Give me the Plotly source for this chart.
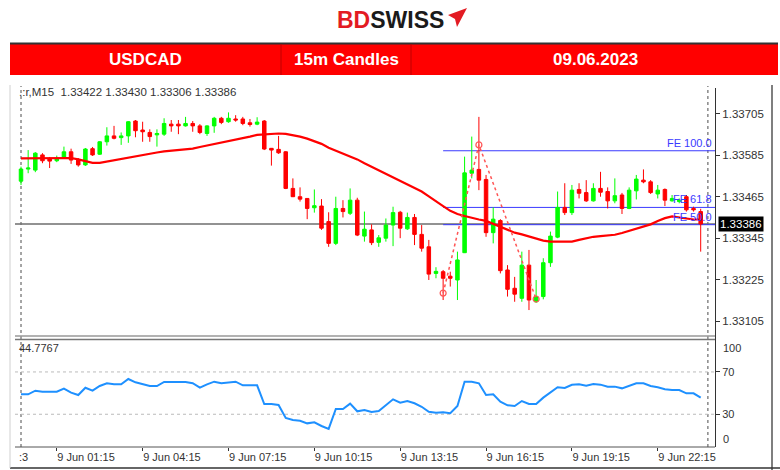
import plotly.graph_objects as go
import pandas as pd

W, H = 780, 470

# ---------------- data ----------------
times = pd.date_range("2023-06-09 00:00", periods=96, freq="15min")

opens = [
    1.33510, 1.33545, 1.33542, 1.33586, 1.33575, 1.33569, 1.33579, 1.33595, 1.33571, 1.33557,
    1.33604, 1.33588, 1.33624, 1.33641, 1.33636, 1.33641, 1.33684, 1.33658, 1.33651, 1.33644,
    1.33646, 1.33675, 1.33675, 1.33670, 1.33677, 1.33670, 1.33648, 1.33670, 1.33692, 1.33682,
    1.33690, 1.33690, 1.33679, 1.33675, 1.33684, 1.33605, 1.33602, 1.33595, 1.33489, 1.33465,
    1.33460, 1.33433, 1.33438, 1.33393, 1.33330, 1.33431, 1.33417, 1.33455, 1.33351, 1.33369,
    1.33333, 1.33345, 1.33383, 1.33420, 1.33372, 1.33405, 1.33356, 1.33320, 1.33243, 1.33248,
    1.33235, 1.33224, 1.33303, 1.33533, 1.33544, 1.33515, 1.33361, 1.33396, 1.33253, 1.33200,
    1.33171, 1.33267, 1.33161, 1.33176, 1.33274, 1.33348, 1.33434, 1.33419, 1.33486, 1.33477,
    1.33453, 1.33489, 1.33480, 1.33453, 1.33470, 1.33431, 1.33482, 1.33513, 1.33508, 1.33473,
    1.33486, 1.33453, 1.33451, 1.33465, 1.33431, 1.33422]

highs = [
    1.33552, 1.33600, 1.33594, 1.33591, 1.33580, 1.33584, 1.33610, 1.33604, 1.33577, 1.33606,
    1.33609, 1.33626, 1.33666, 1.33670, 1.33651, 1.33684, 1.33687, 1.33682, 1.33660, 1.33660,
    1.33692, 1.33687, 1.33687, 1.33696, 1.33684, 1.33675, 1.33672, 1.33696, 1.33696, 1.33709,
    1.33701, 1.33696, 1.33690, 1.33695, 1.33687, 1.33606, 1.33641, 1.33597, 1.33518, 1.33492,
    1.33461, 1.33486, 1.33458, 1.33420, 1.33465, 1.33455, 1.33489, 1.33462, 1.33422, 1.33385,
    1.33354, 1.33402, 1.33436, 1.33424, 1.33419, 1.33415, 1.33383, 1.33340, 1.33261, 1.33253,
    1.33248, 1.33306, 1.33581, 1.33639, 1.33696, 1.33528, 1.33434, 1.33400, 1.33267, 1.33233,
    1.33306, 1.33311, 1.33224, 1.33287, 1.33364, 1.33480, 1.33504, 1.33499, 1.33504, 1.33513,
    1.33504, 1.33537, 1.33492, 1.33518, 1.33476, 1.33492, 1.33528, 1.33544, 1.33513, 1.33499,
    1.33489, 1.33470, 1.33460, 1.33470, 1.33436, 1.33430]

lows = [
    1.33499, 1.33533, 1.33536, 1.33562, 1.33548, 1.33565, 1.33577, 1.33560, 1.33552, 1.33554,
    1.33583, 1.33586, 1.33613, 1.33631, 1.33615, 1.33621, 1.33637, 1.33624, 1.33624, 1.33610,
    1.33641, 1.33653, 1.33646, 1.33668, 1.33653, 1.33646, 1.33641, 1.33650, 1.33675, 1.33679,
    1.33682, 1.33672, 1.33668, 1.33672, 1.33600, 1.33555, 1.33589, 1.33487, 1.33464, 1.33451,
    1.33400, 1.33419, 1.33369, 1.33320, 1.33325, 1.33405, 1.33412, 1.33351, 1.33335, 1.33325,
    1.33320, 1.33335, 1.33322, 1.33345, 1.33369, 1.33325, 1.33306, 1.33224, 1.33229, 1.33166,
    1.33205, 1.33166, 1.33302, 1.33518, 1.33484, 1.33349, 1.33330, 1.33243, 1.33176, 1.33161,
    1.33161, 1.33137, 1.33158, 1.33168, 1.33262, 1.33345, 1.33412, 1.33412, 1.33460, 1.33450,
    1.33451, 1.33465, 1.33431, 1.33446, 1.33415, 1.33429, 1.33457, 1.33504, 1.33473, 1.33460,
    1.33438, 1.33451, 1.33446, 1.33422, 1.33422, 1.33306]

closes = [
    1.33545, 1.33548, 1.33591, 1.33569, 1.33568, 1.33575, 1.33595, 1.33571, 1.33557, 1.33603,
    1.33586, 1.33624, 1.33641, 1.33634, 1.33641, 1.33682, 1.33656, 1.33653, 1.33639, 1.33648,
    1.33677, 1.33670, 1.33670, 1.33677, 1.33670, 1.33651, 1.33670, 1.33692, 1.33680, 1.33692,
    1.33687, 1.33677, 1.33674, 1.33681, 1.33603, 1.33600, 1.33592, 1.33489, 1.33465, 1.33458,
    1.33431, 1.33439, 1.33374, 1.33330, 1.33431, 1.33422, 1.33455, 1.33354, 1.33371, 1.33332,
    1.33346, 1.33383, 1.33419, 1.33374, 1.33405, 1.33356, 1.33316, 1.33241, 1.33249, 1.33229,
    1.33229, 1.33282, 1.33534, 1.33542, 1.33513, 1.33361, 1.33400, 1.33251, 1.33197, 1.33183,
    1.33267, 1.33166, 1.33176, 1.33274, 1.33351, 1.33434, 1.33419, 1.33484, 1.33475, 1.33453,
    1.33489, 1.33478, 1.33453, 1.33468, 1.33431, 1.33484, 1.33516, 1.33508, 1.33477, 1.33484,
    1.33455, 1.33460, 1.33455, 1.33427, 1.33427, 1.33386]

ma_values = [
    1.33576, 1.33576, 1.33576, 1.33576, 1.33576, 1.33576, 1.33577, 1.33577, 1.33573, 1.33567,
    1.33563, 1.33563, 1.33567, 1.33570, 1.33573, 1.33577, 1.33581, 1.33586, 1.33590, 1.33593,
    1.33596, 1.33598, 1.33600, 1.33602, 1.33604, 1.33609, 1.33613, 1.33618, 1.33622, 1.33626,
    1.33631, 1.33635, 1.33639, 1.33644, 1.33646, 1.33648, 1.33648, 1.33647, 1.33644, 1.33639,
    1.33633, 1.33626, 1.33618, 1.33607, 1.33599, 1.33591, 1.33583, 1.33573, 1.33562, 1.33552,
    1.33542, 1.33532, 1.33522, 1.33512, 1.33502, 1.33492, 1.33480, 1.33466, 1.33453, 1.33438,
    1.33424, 1.33415, 1.33409, 1.33403, 1.33399, 1.33395, 1.33386, 1.33377, 1.33369, 1.33361,
    1.33356, 1.33350, 1.33343, 1.33338, 1.33335, 1.33335, 1.33335, 1.33335, 1.33340, 1.33345,
    1.33349, 1.33351, 1.33353, 1.33355, 1.33360, 1.33366, 1.33373, 1.33380, 1.33385, 1.33395,
    1.33403, 1.33408, 1.33406, 1.33402, 1.33399, 1.33399]

rsi_values = [
    48.9, 48.9, 52.3, 51.3, 51.3, 51.3, 54.2, 50.4, 48.2, 55.1,
    52.3, 56.7, 59.3, 58.3, 58.3, 63.3, 60.2, 58.3, 56.7, 56.7,
    60.5, 60.5, 60.5, 60.5, 59.3, 55.1, 58.3, 60.8, 59.3, 60.2,
    60.8, 57.4, 57.4, 57.4, 39.7, 39.7, 38.8, 26.5, 24.6, 23.9,
    21.4, 22.4, 18.9, 16.1, 35.0, 35.0, 40.0, 32.8, 34.0, 32.1,
    33.1, 38.8, 44.1, 40.9, 42.5, 40.4, 37.1, 32.4, 31.5, 31.8,
    30.9, 37.8, 60.8, 60.8, 59.3, 48.2, 48.9, 41.9, 38.5, 37.8,
    42.5, 39.7, 39.7, 45.7, 50.4, 55.5, 54.8, 57.9, 58.3, 57.0,
    58.6, 58.0, 56.1, 56.1, 54.5, 56.7, 59.3, 59.3, 56.7, 55.5,
    53.6, 52.9, 52.9, 49.8, 49.8, 45.7]

fe_times = ["2023-06-09 14:45", "2023-06-09 16:00", "2023-06-09 18:00"]
fe_prices = [1.33186, 1.33615, 1.33169]
fe_labels = ["FE 100.0", "FE 61.8", "FE 50.0"]
fe_levels = [1.33598, 1.33434, 1.33384]

price_ticks = [1.33705, 1.33585, 1.33465, 1.33345, 1.33225, 1.33105]
time_ticks = ["2023-06-09 01:15", "2023-06-09 04:15", "2023-06-09 07:15", "2023-06-09 10:15",
              "2023-06-09 13:15", "2023-06-09 16:15", "2023-06-09 19:15", "2023-06-09 22:15"]
time_tick_text = ["9 Jun 01:15", "9 Jun 04:15", "9 Jun 07:15", "9 Jun 10:15",
                  "9 Jun 13:15", "9 Jun 16:15", "9 Jun 19:15", "9 Jun 22:15"]
last_price = 1.33386
header_text = ".:r,M15  1.33422 1.33430 1.33306 1.33386"
rsi_text = "44.7767"

# ---------------- helpers for layout positions ----------------
def px(x):
    return x / W


def py(y):
    return 1 - y / H


FONT = "Liberation Sans, Arial, sans-serif"
X_RANGE = ["2023-06-08 23:47:24", "2023-06-10 00:15:00"]

fig = go.Figure()

fig.add_trace(go.Candlestick(
    x=times, open=opens, high=highs, low=lows, close=closes,
    increasing=dict(line=dict(color="#00FF00", width=1), fillcolor="#00FF00"),
    decreasing=dict(line=dict(color="#FF0000", width=1), fillcolor="#FF0000"),
    whiskerwidth=0, xaxis="x", yaxis="y", hoverinfo="skip", showlegend=False))

fig.add_trace(go.Scatter(x=times, y=ma_values, mode="lines",
                         line=dict(color="#FF0000", width=2.2),
                         xaxis="x", yaxis="y", hoverinfo="skip", showlegend=False))

fig.add_trace(go.Scatter(x=fe_times, y=fe_prices, mode="lines+markers",
                         line=dict(color="#FF5555", width=1.5, dash="dot"),
                         marker=dict(symbol="circle-open", size=6, color="#FF5555", line=dict(width=1.2)),
                         xaxis="x", yaxis="y", hoverinfo="skip", showlegend=False))

fig.add_trace(go.Scatter(x=times, y=rsi_values, mode="lines",
                         line=dict(color="#1E90FF", width=2),
                         xaxis="x2", yaxis="y2", hoverinfo="skip", showlegend=False))

shapes = []
# banner
shapes.append(dict(type="rect", xref="paper", yref="paper", x0=px(10), x1=px(778), y0=py(75), y1=py(43),
                   fillcolor="#FF0000", line=dict(width=0), layer="above"))
shapes.append(dict(type="line", xref="paper", yref="paper", x0=px(10), x1=px(778), y0=py(43.5), y1=py(43.5),
                   line=dict(color="#333333", width=2)))
for xd in (281, 411):
    shapes.append(dict(type="line", xref="paper", yref="paper", x0=px(xd), x1=px(xd), y0=py(75), y1=py(44),
                       line=dict(color="#C00000", width=1)))
# logo arrow
shapes.append(dict(type="path", xref="paper", yref="paper",
                   path="M {} {} L {} {} L {} {} L {} {} Z".format(px(448), py(15), px(467), py(8), px(457), py(27), px(455), py(19)),
                   fillcolor="#E31B23", line=dict(width=0)))
# frame lines
shapes.append(dict(type="line", xref="paper", yref="paper", x0=px(772), x1=px(772), y0=py(470), y1=py(85),
                   line=dict(color="#555555", width=1.5)))
shapes.append(dict(type="line", xref="paper", yref="paper", x0=px(10), x1=px(780), y0=py(468), y1=py(468),
                   line=dict(color="#333333", width=1.5)))
shapes.append(dict(type="line", xref="paper", yref="paper", x0=px(10), x1=px(10), y0=py(468), y1=py(85),
                   line=dict(color="#D0D0D0", width=1)))
# panel separators
shapes.append(dict(type="line", xref="paper", yref="paper", x0=px(15), x1=px(715), y0=py(336), y1=py(336),
                   line=dict(color="#999999", width=1.5)))
shapes.append(dict(type="line", xref="paper", yref="paper", x0=px(15), x1=px(715), y0=py(339.5), y1=py(339.5),
                   line=dict(color="#777777", width=1.5)))
shapes.append(dict(type="line", xref="paper", yref="paper", x0=px(15), x1=px(715), y0=py(447), y1=py(447),
                   line=dict(color="#555555", width=1)))
shapes.append(dict(type="line", xref="paper", yref="paper", x0=px(715.5), x1=px(715.5), y0=py(447), y1=py(88),
                   line=dict(color="#333333", width=1)))
# day separators
for t in ("2023-06-09 00:00", "2023-06-10 00:00"):
    shapes.append(dict(type="line", xref="x", yref="paper", x0=t, x1=t, y0=py(447), y1=py(86),
                       line=dict(color="#888888", width=1.5, dash="dot"), layer="below"))
# current price line
shapes.append(dict(type="line", xref="paper", yref="y", x0=px(15), x1=px(715), y0=last_price, y1=last_price,
                   line=dict(color="#6E6E6E", width=1.5), layer="below"))
# FE levels
for lvl in fe_levels:
    shapes.append(dict(type="line", xref="x", yref="y", x0=fe_times[0], x1=X_RANGE[1], y0=lvl, y1=lvl,
                       line=dict(color="#3A3AFF", width=1), layer="below"))
# RSI levels
for lv in (70, 30):
    shapes.append(dict(type="line", xref="paper", yref="y2", x0=px(15), x1=px(715), y0=lv, y1=lv,
                       line=dict(color="#BBBBBB", width=1, dash="dot"), layer="below"))

ann = []
ann.append(dict(xref="paper", yref="paper", x=px(390), y=py(20), xanchor="center", yanchor="middle",
                text="<b><span style='color:#E31B23'>BD</span><span style='color:#1A1A1A'>SWISS</span></b>",
                showarrow=False, font=dict(family=FONT, size=23)))
for txt, cx in (("USDCAD", 145), ("15m Candles", 346), ("09.06.2023", 595)):
    ann.append(dict(xref="paper", yref="paper", x=px(cx), y=py(60), xanchor="center", yanchor="middle",
                    text="<b>" + txt + "</b>", showarrow=False, font=dict(family=FONT, size=17, color="white")))
ann.append(dict(xref="paper", yref="paper", x=px(17), y=py(91.5), xanchor="left", yanchor="middle",
                text=header_text, showarrow=False, font=dict(family=FONT, size=11.5, color="#333333")))
ann.append(dict(xref="paper", yref="paper", x=px(17), y=py(348), xanchor="left", yanchor="middle",
                text=rsi_text, showarrow=False, font=dict(family=FONT, size=11, color="#333333")))
ann.append(dict(xref="paper", yref="paper", x=px(17), y=py(457), xanchor="left", yanchor="middle",
                text=":3", showarrow=False, font=dict(family=FONT, size=11, color="#333333")))
ann.append(dict(xref="paper", yref="y", x=px(718), y=last_price, xanchor="left", yanchor="middle",
                text=f"{last_price:.5f}", showarrow=False, bgcolor="#000000", borderpad=1,
                font=dict(family=FONT, size=11.5, color="white")))
for lbl, lvl in zip(fe_labels, fe_levels):
    ann.append(dict(xref="paper", yref="y", x=px(714), y=lvl, xanchor="right", yanchor="bottom",
                    text=lbl, showarrow=False, font=dict(family=FONT, size=11, color="#3A3AFF")))
ann.append(dict(xref="paper", yref="y2", x=px(721), y=100.2, xanchor="left", yanchor="top",
                text="100", showarrow=False, font=dict(family=FONT, size=11, color="#333333")))
ann.append(dict(xref="paper", yref="y2", x=px(721), y=-0.95, xanchor="left", yanchor="bottom",
                text="0", showarrow=False, font=dict(family=FONT, size=11, color="#333333")))

tickfont = dict(family=FONT, size=11.5, color="#333333")

fig.update_layout(
    width=W, height=H, margin=dict(l=0, r=0, t=0, b=0),
    paper_bgcolor="white", plot_bgcolor="white", showlegend=False,
    xaxis=dict(domain=[px(15), px(715)], range=X_RANGE, anchor="y", showticklabels=False,
               showgrid=False, zeroline=False, showline=False, ticks="",
               rangeslider=dict(visible=False), automargin=False),
    yaxis=dict(domain=[py(336), py(85)], range=[1.330619, 1.337883], side="right", anchor="x",
               tickvals=price_ticks, ticktext=[f"{v:.5f}" for v in price_ticks],
               ticks="outside", ticklen=4, tickcolor="#333333", showgrid=False, zeroline=False,
               showline=False, tickfont=tickfont, automargin=False),
    xaxis2=dict(domain=[px(15), px(715)], range=X_RANGE, anchor="y2", matches="x",
                tickvals=time_ticks, ticktext=time_tick_text, ticks="outside", ticklen=3,
                tickcolor="#333333", ticklabelposition="outside right", showgrid=False,
                zeroline=False, showline=False, tickfont=dict(family=FONT, size=11, color="#333333"),
                automargin=False),
    yaxis2=dict(domain=[py(447), py(340)], range=[-0.95, 100.2], side="right", anchor="x2",
                tickvals=[70, 30], ticktext=["70", "30"], ticks="outside", ticklen=4,
                tickcolor="#333333", showgrid=False, zeroline=False, showline=False,
                tickfont=dict(family=FONT, size=11, color="#333333"), automargin=False),
    shapes=shapes, annotations=ann,
)

fig.write_html("out.html", config={"displayModeBar": False, "staticPlot": True},
               post_script="document.body.style.margin='0';document.body.style.overflow='hidden';")
